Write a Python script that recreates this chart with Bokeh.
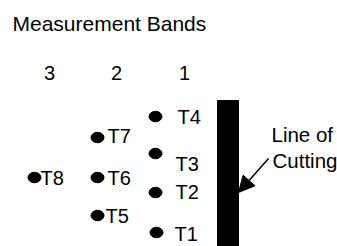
from bokeh.plotting import figure
from bokeh.models import Range1d, Arrow, NormalHead, ColumnDataSource
from bokeh.core.properties import value
from bokeh.embed import file_html
from bokeh.resources import INLINE

# --- diagram content (reference-pixel coordinates, y measured downward) ---
title_text = "Measurement Bands"
band_labels = ["3", "2", "1"]
band_label_x = [49, 116, 184]
band_label_y = [72, 72, 72]

sensor_names = ["T1", "T2", "T3", "T4", "T5", "T6", "T7", "T8"]
sensor_x = [156, 155, 155, 155, 97, 97, 97, 34]
sensor_y = [232, 192, 153, 116, 215, 177, 137, 177]
sensor_label_x = [174, 175, 175, 177, 105, 107, 107, 40]
sensor_label_y = [233, 191, 163, 116, 215, 177.5, 135.5, 177.5]

cut_left, cut_right, cut_top, cut_bottom = [217], [238], [100], [260]
cut_text = ["Line of", "Cutting"]
cut_text_x = [271, 272]
cut_text_y = [134, 160]
arrow_from = (268, 158)
arrow_to = (238, 192)

FONT = value("Liberation Sans")

p = figure(width=337, height=246, output_backend="svg", toolbar_location=None,
           x_range=Range1d(0, 337), y_range=Range1d(246, 0), min_border=0)
p.axis.visible = False
p.grid.visible = False
p.outline_line_color = None
p.background_fill_color = "white"
p.border_fill_color = "white"

# title
p.text(x=[12], y=[22.5], text=[title_text], text_font=FONT, text_font_size="21px",
       text_color="black", text_align="left", text_baseline="middle")

# band numbers
p.text(x=band_label_x, y=band_label_y, text=band_labels, text_font=FONT,
       text_font_size="20px", text_color="black", text_align="center",
       text_baseline="middle")

# sensors
src = ColumnDataSource(dict(x=sensor_x, y=sensor_y, lx=sensor_label_x,
                            ly=sensor_label_y, name=sensor_names))
p.ellipse(x="x", y="y", width=13, height=10.5, source=src,
          fill_color="black", line_color="black")
p.text(x="lx", y="ly", text="name", source=src, text_font=FONT,
       text_font_size="20px", text_color="black", text_align="left",
       text_baseline="middle")

# line of cutting
p.quad(left=cut_left, right=cut_right, top=cut_top, bottom=cut_bottom,
       fill_color="black", line_color="black")
p.text(x=cut_text_x, y=cut_text_y, text=cut_text, text_font=FONT,
       text_font_size="20.5px", text_color="black", text_align="left",
       text_baseline="middle")
p.add_layout(Arrow(x_start=arrow_from[0], y_start=arrow_from[1],
                   x_end=arrow_to[0], y_end=arrow_to[1], line_width=1.5,
                   line_color="black",
                   end=NormalHead(size=16, fill_color="black", line_color="black")))

open("out.html", "w").write(file_html(p, INLINE))
